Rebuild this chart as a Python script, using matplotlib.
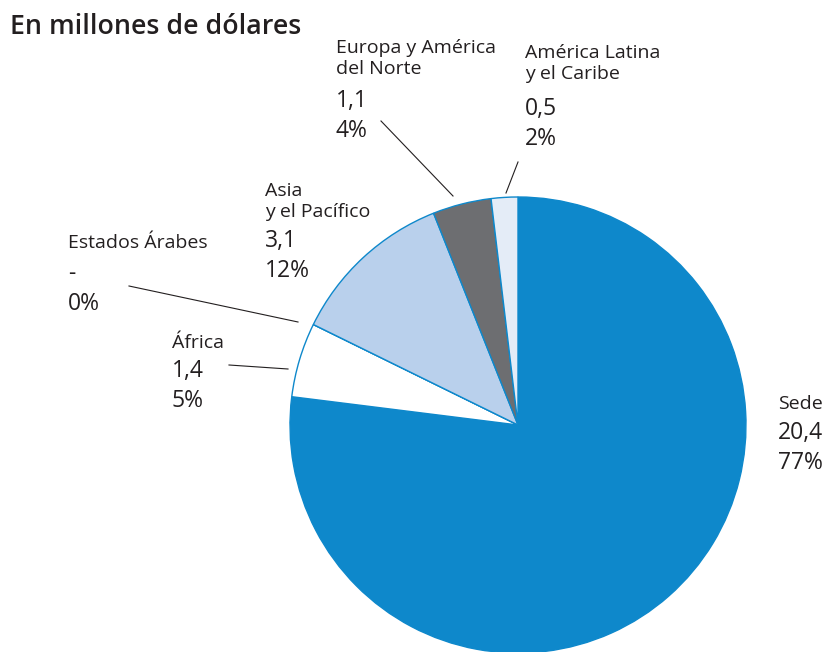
import matplotlib.pyplot as plt

# data
regions = ["Sede", "África", "Estados Árabes", "Asia\ny el Pacífico",
           "Europa y América\ndel Norte", "América Latina\ny el Caribe"]
amounts = [20.4, 1.4, 0.0, 3.1, 1.1, 0.5]
amount_labels = ["20,4", "1,4", "-", "3,1", "1,1", "0,5"]
pct_labels = ["77%", "5%", "0%", "12%", "4%", "2%"]
colors = ["#0E88CB", "#FFFFFF", "#FFFFFF", "#B9D0EC", "#6D6E71", "#E4ECF7"]

W, H = 829, 652
plt.rcParams['font.family'] = ['Open Sans', 'DejaVu Sans']
fig = plt.figure(figsize=(W / 100, H / 100), dpi=100)


def px(x, y):
    return x / W, 1 - y / H


# pie: centre (518,425), radius 228 px
cx, cy, r = 518, 425, 228
ax = fig.add_axes([(cx - r) / W, 1 - (cy + r) / H, 2 * r / W, 2 * r / H])
ax.pie(amounts, colors=colors, startangle=90, counterclock=False, radius=1,
       wedgeprops=dict(edgecolor="#0E88CB", linewidth=1.0))
ax.set_xlim(-1, 1)
ax.set_ylim(-1, 1)
ax.set_aspect('equal')
ax.axis('off')
for p in ax.patches:
    p.set_clip_on(False)

# title
fig.text(*px(10, 13), "En millones de dólares", fontsize=19.3, fontweight='semibold',
         color="#231F20", va='top', ha='left')

# label positions (left x, top of name, top of amount)
label_pos = {
    "Sede": (778, 395, 421),
    "África": (172, 334, 359),
    "Estados Árabes": (68, 234, 262),
    "Asia\ny el Pacífico": (265, 182, 229),
    "Europa y América\ndel Norte": (336, 39, 89),
    "América Latina\ny el Caribe": (525, 44, 97),
}
for name, amt, pct in zip(regions, amount_labels, pct_labels):
    x, y_name, y_amt = label_pos[name]
    fig.text(*px(x, y_name), name, fontsize=14, color="#231F20", va='top',
             ha='left', linespacing=1.22)
    fig.text(*px(x, y_amt), amt + "\n" + pct, fontsize=16.5, color="#231F20",
             va='top', ha='left', linespacing=1.33)

# leader lines
leaders = [((381, 121), (453, 196)),
           ((518, 162), (506, 193)),
           ((129, 286), (298, 322)),
           ((229, 365), (288, 369))]
for (x0, y0), (x1, y1) in leaders:
    a, b = px(x0, y0)
    c, d = px(x1, y1)
    fig.add_artist(plt.Line2D([a, c], [b, d], color="#231F20", linewidth=0.8))

fig.savefig("out.png", dpi=100)
